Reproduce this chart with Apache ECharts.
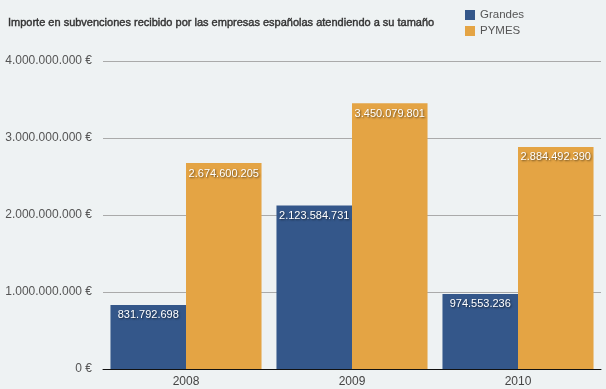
<!DOCTYPE html>
<html><head><meta charset="utf-8">
<script src="https://cdn.jsdelivr.net/npm/echarts@6/dist/echarts.min.js"></script>
<style>html,body{margin:0;padding:0;background:#eef2f3}#c{width:606px;height:389px}</style>
</head><body><div id="c"></div>
<script>
const categories = ['2008','2009','2010'];
const grandes = [831792698, 2123584731, 974553236];
const pymes = [2674600205, 3450079801, 2884492390];
const seriesNames = ['Grandes','PYMES'];
const titleText = 'Importe en subvenciones recibido por las empresas españolas atendiendo a su tamaño';

function fmt(v){ return String(Math.round(v)).replace(/\B(?=(\d{3})+(?!\d))/g,'.'); }
const font = 'Helvetica, Arial, "Liberation Sans", sans-serif';
const lbl = {
  show:true, position:'insideTop', distance:5,
  color:'#fff', fontSize:11, fontFamily:font,
  textShadowColor:'rgba(0,0,0,0.6)', textShadowBlur:2, textShadowOffsetX:1, textShadowOffsetY:1,
  formatter:p=>fmt(p.value)
};
const chart = echarts.init(document.getElementById('c'));
chart.setOption({
  backgroundColor:'#eef2f3',
  animation:false,
  title:{text:titleText, left:3, top:12, textStyle:{fontSize:11, fontWeight:'normal', color:'#333', fontFamily:font, textBorderColor:'#333', textBorderWidth:0.4}},
  legend:{orient:'vertical', left:460, top:4, itemWidth:10, itemHeight:10, itemGap:4,
    icon:'rect', textStyle:{fontSize:11.5, color:'#555', fontFamily:font}, data:seriesNames},
  grid:{left:103, right:5, top:61, bottom:20},
  xAxis:{type:'category', data:categories, axisTick:{show:false},
    axisLine:{lineStyle:{color:'#111', width:1}},
    axisLabel:{color:'#444', fontSize:12, fontFamily:font, margin:7}},
  yAxis:{type:'value', min:0, max:4000000000, interval:1000000000,
    splitLine:{lineStyle:{color:'#aaa'}},
    axisLabel:{color:'#555', fontSize:12, fontFamily:font, margin:11, formatter:v=>fmt(v)+' €'}},
  series:[
    {name:seriesNames[0], type:'bar', data:grandes, barGap:'0%', barCategoryGap:'9%', itemStyle:{color:'#34578a'}, label:lbl},
    {name:seriesNames[1], type:'bar', data:pymes, barGap:'0%', barCategoryGap:'9%', itemStyle:{color:'#e4a444'}, label:lbl}
  ]
});
</script></body></html>
